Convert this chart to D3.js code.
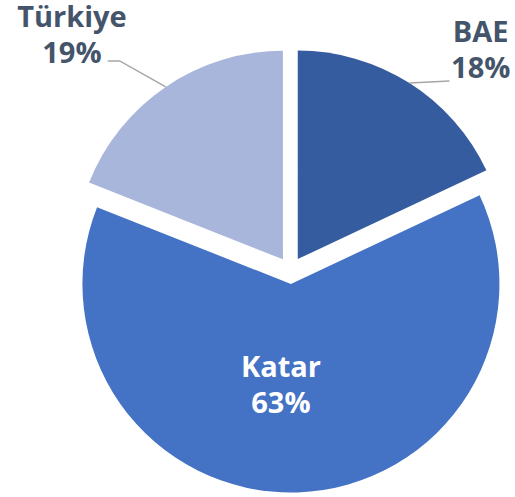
<!DOCTYPE html>
<html>
<head>
<meta charset="utf-8">
<script src="https://cdn.jsdelivr.net/npm/d3@7"></script>
<style>
  html, body { margin: 0; padding: 0; background: #fff; }
  svg { display: block; }
  text { font-family: "Open Sans", "Noto Sans", sans-serif; font-weight: 700; }
</style>
</head>
<body>
<svg id="chart" width="515" height="497"></svg>
<script>
// ---- data ----
const categories = ["BAE", "Katar", "Türkiye"];
const values = [18, 63, 19];
const valueLabels = ["18%", "63%", "19%"];
const colors = ["#355C9F", "#4472C4", "#A9B6DB"];

// ---- layout ----
const W = 515, H = 497;
const cx = 290.5, cy = 270.5, R = 208.5, explode = 13.5;
const fontSize = 29;
const lineGap = 36;

const svg = d3.select("#chart");
const g = svg.append("g").attr("transform", `translate(${cx},${cy})`);

const pie = d3.pie().sort(null).value(d => d.v).startAngle(0).endAngle(2 * Math.PI);
const data = pie(categories.map((c, i) => ({ c, v: values[i], lbl: valueLabels[i], col: colors[i] })));
const arc = d3.arc().innerRadius(0).outerRadius(R);

function offset(d, k) {
  const a = (d.startAngle + d.endAngle) / 2;
  return [Math.sin(a) * k, -Math.cos(a) * k];
}

const slices = g.selectAll("g.slice").data(data).join("g")
  .attr("class", "slice")
  .attr("transform", d => { const o = offset(d, explode); return `translate(${o[0]},${o[1]})`; });

slices.append("path").attr("d", arc).attr("fill", d => d.data.col);

// label settings: inside (Katar) or outside with leader lines
const labelStyle = {
  "BAE":     { inside: false, dx: 183, dy: -217.5, elbow: [40, -2], end: [40, -2] },
  "Katar":   { inside: true,  dx: -10, dy: 93 },
  "Türkiye": { inside: false, dx: -211, dy: -232, elbow: [-46, -26], end: [-58, -26] }
};

data.forEach(d => {
  const s = labelStyle[d.data.c];
  const o = offset(d, explode);
  const a = (d.startAngle + d.endAngle) / 2;
  const edge = [o[0] + Math.sin(a) * R, o[1] - Math.cos(a) * R];
  if (!s.inside) {
    const pts = [edge, [edge[0] + s.elbow[0], edge[1] + s.elbow[1]], [edge[0] + s.end[0], edge[1] + s.end[1]]];
    g.append("path")
      .attr("d", d3.line()(pts))
      .attr("fill", "none")
      .attr("stroke", "#A6A6A6")
      .attr("stroke-width", 1.5);
  }
  const tx = o[0] + s.dx, ty = o[1] + s.dy;
  const t = g.append("text")
    .attr("text-anchor", "middle")
    .attr("font-size", fontSize)
    .attr("fill", s.inside ? "#FFFFFF" : "#44546A");
  t.append("tspan").attr("x", tx).attr("y", ty).text(d.data.c);
  t.append("tspan").attr("x", tx).attr("y", ty + lineGap).text(d.data.lbl);
});
</script>
</body>
</html>
